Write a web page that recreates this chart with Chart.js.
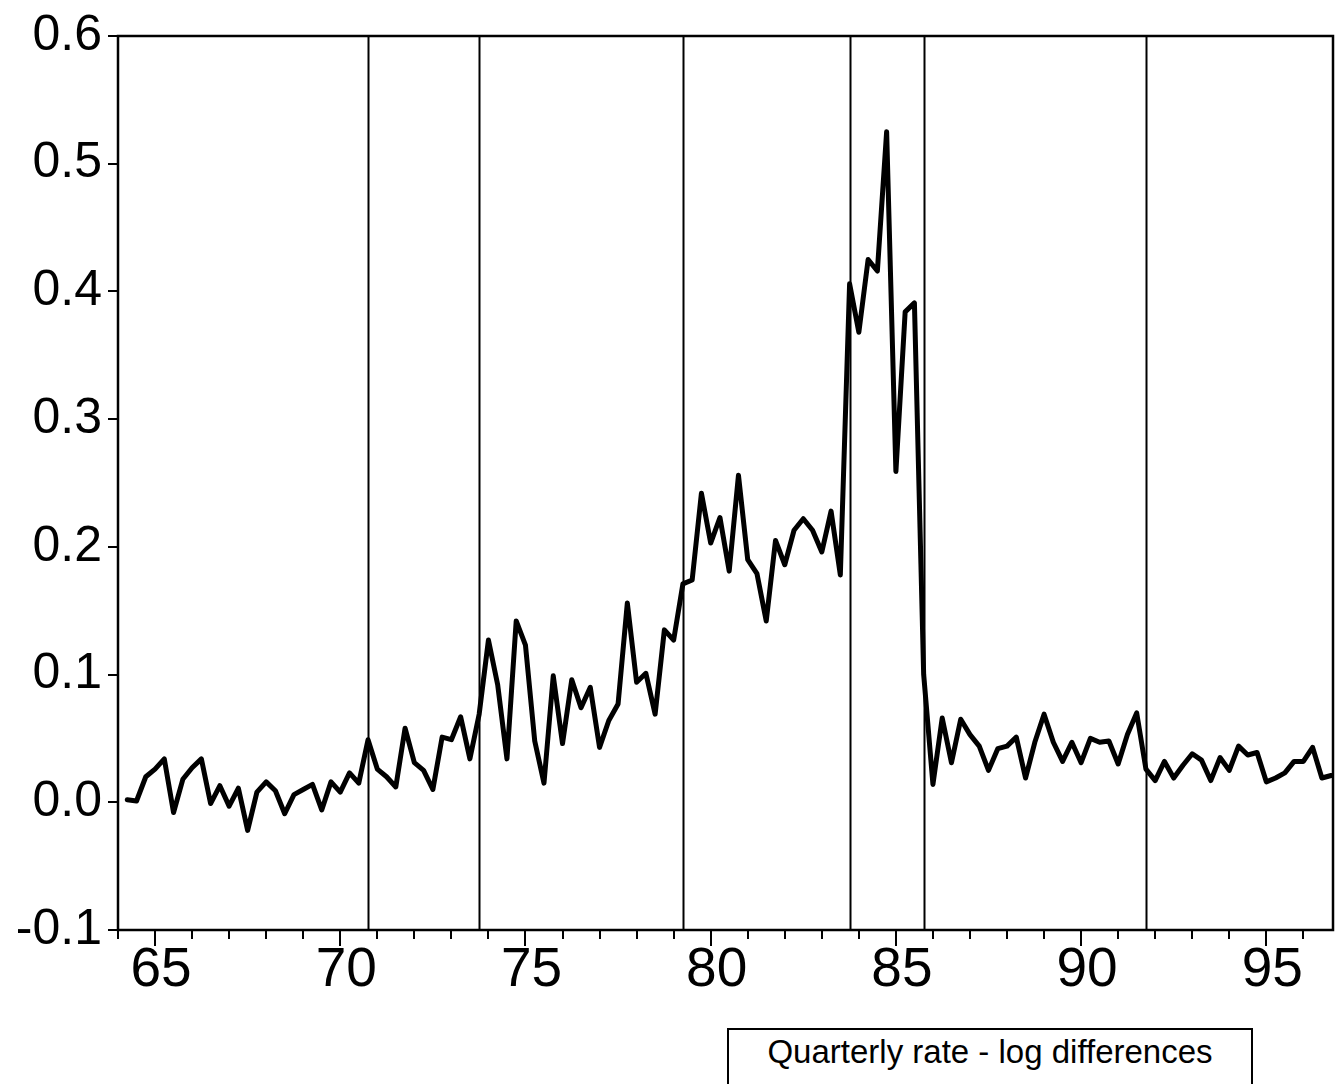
<!DOCTYPE html>
<html><head><meta charset="utf-8">
<script src="https://cdn.jsdelivr.net/npm/chart.js@4.4.0/dist/chart.umd.min.js"></script>
<style>
html,body{margin:0;padding:0;background:#fff;overflow:hidden}
#wrap{position:relative;width:1337px;height:1084px}
#legend{position:absolute;left:727px;top:1028px;width:526px;height:70px;border:2px solid #000;box-sizing:border-box;font:33px "Liberation Sans",Arial,sans-serif;color:#000;text-align:center;padding-top:3px;background:#fff}
</style></head><body>
<div id="wrap"><canvas id="c" width="1337" height="1084"></canvas><div id="legend">Quarterly rate - log differences</div></div>
<script>
// Quarterly observations, first at 1964Q2 (64.25), step one quarter
const startYear = 64.25;
const quarterStep = 0.25;
const seriesLabel = "Quarterly rate - log differences";
const values = [
  0.002, 0.001, 0.020, 0.026, 0.034, -0.008, 0.018, 0.027, 0.034, -0.001,
  0.013, -0.003, 0.011, -0.022, 0.008, 0.016, 0.009, -0.009, 0.006, 0.010,
  0.014, -0.006, 0.016, 0.008, 0.023, 0.015, 0.049, 0.026, 0.020, 0.012,
  0.058, 0.031, 0.025, 0.010, 0.051, 0.049, 0.067, 0.034, 0.069, 0.127,
  0.092, 0.034, 0.142, 0.123, 0.048, 0.015, 0.099, 0.046, 0.096, 0.074,
  0.090, 0.043, 0.064, 0.077, 0.156, 0.094, 0.101, 0.069, 0.135, 0.127,
  0.171, 0.174, 0.242, 0.203, 0.223, 0.181, 0.256, 0.190, 0.179, 0.142,
  0.205, 0.186, 0.213, 0.222, 0.213, 0.196, 0.228, 0.178, 0.406, 0.368,
  0.425, 0.416, 0.525, 0.259, 0.384, 0.391, 0.100, 0.014, 0.066, 0.031,
  0.065, 0.053, 0.044, 0.025, 0.042, 0.044, 0.051, 0.019, 0.047, 0.069,
  0.047, 0.032, 0.047, 0.031, 0.050, 0.047, 0.048, 0.030, 0.053, 0.070,
  0.026, 0.017, 0.032, 0.019, 0.029, 0.038, 0.033, 0.017, 0.035, 0.025,
  0.044, 0.037, 0.039, 0.016, 0.019, 0.023, 0.032, 0.032, 0.043, 0.019,
  0.021
];
const breakDates = [70.75, 73.75, 79.25, 83.75, 85.75, 91.75];
const xTickLabels = [65, 70, 75, 80, 85, 90, 95];
const minorYears = [64,66,67,68,69,71,72,73,74,76,77,78,79,81,82,83,84,86,87,88,89,91,92,93,94,96];
const yTickValues = [-0.1, 0.0, 0.1, 0.2, 0.3, 0.4, 0.5, 0.6];

const points = values.map((v, i) => ({ x: startYear + i * quarterStep, y: v }));

const framePlugin = {
  id: 'frame',
  beforeDatasetsDraw(chart) {
    const { ctx, chartArea: a, scales } = chart;
    ctx.save();
    ctx.strokeStyle = '#000';
    ctx.lineWidth = 2;
    breakDates.forEach(d => {
      const x = Math.round(scales.x.getPixelForValue(d)) + 0.5;
      ctx.beginPath(); ctx.moveTo(x, a.top); ctx.lineTo(x, a.bottom); ctx.stroke();
    });
    minorYears.forEach(yr => {
      const x = Math.round(scales.x.getPixelForValue(yr));
      ctx.beginPath(); ctx.moveTo(x, a.bottom); ctx.lineTo(x, a.bottom + 9); ctx.stroke();
    });
    ctx.restore();
  },
  afterDraw(chart) {
    const { ctx, chartArea: a } = chart;
    ctx.save();
    ctx.strokeStyle = '#000';
    ctx.lineWidth = 2.5;
    ctx.strokeRect(a.left, a.top, a.right - a.left, a.bottom - a.top);
    ctx.restore();
  }
};

new Chart(document.getElementById('c'), {
  type: 'line',
  data: {
    datasets: [{
      label: seriesLabel,
      data: points,
      borderColor: '#000',
      borderWidth: 5,
      borderJoinStyle: 'round',
      borderCapStyle: 'round',
      pointRadius: 0,
      tension: 0,
      fill: false
    }]
  },
  options: {
    responsive: false,
    animation: false,
    devicePixelRatio: 1,
    layout: { padding: { left: 0, top: 32, right: 4, bottom: 0 } },
    plugins: { legend: { display: false }, tooltip: { enabled: false } },
    scales: {
      x: {
        type: 'linear',
        min: 64,
        max: 96.8,
        afterBuildTicks: s => { s.ticks = xTickLabels.map(v => ({ value: v })); },
        afterFit: s => { s.height = 154; },
        ticks: {
          autoSkip: false, maxRotation: 0, minRotation: 0,
          color: '#000', padding: -8, labelOffset: 6,
          font: { family: '"Liberation Sans", Arial, sans-serif', size: 55 },
          callback: v => String(v)
        },
        grid: { drawOnChartArea: false, drawTicks: true, tickLength: 16, color: '#000', lineWidth: 2 },
        border: { display: true, color: '#000', width: 2 }
      },
      y: {
        min: -0.1,
        max: 0.6,
        afterBuildTicks: s => { s.ticks = yTickValues.map(v => ({ value: v })); },
        afterFit: s => { s.width = 118; },
        ticks: {
          color: '#000', padding: 6,
          font: { family: '"Liberation Sans", Arial, sans-serif', size: 50 },
          callback: v => Number(v).toFixed(1)
        },
        grid: { drawOnChartArea: false, drawTicks: true, tickLength: 10, color: '#000', lineWidth: 2 },
        border: { display: true, color: '#000', width: 2 }
      }
    }
  },
  plugins: [framePlugin]
});
</script>
</body></html>
